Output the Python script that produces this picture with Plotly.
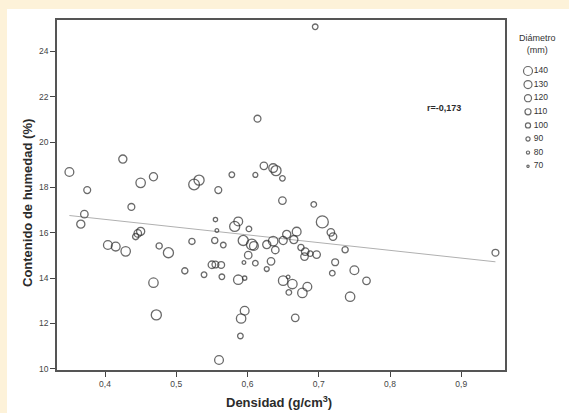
import plotly.graph_objects as go

# ---- data ----
densidad = [0.350, 0.375, 0.371, 0.366, 0.404, 0.415, 0.429, 0.425, 0.437, 0.450,
            0.468, 0.443, 0.446, 0.450, 0.476, 0.489, 0.468, 0.472, 0.512, 0.522,
            0.525, 0.532, 0.539, 0.550, 0.555, 0.559, 0.560, 0.555, 0.557, 0.554,
            0.563, 0.564, 0.566, 0.578, 0.582, 0.587, 0.587, 0.596, 0.590, 0.591,
            0.596, 0.595, 0.594, 0.602, 0.601, 0.606, 0.609, 0.611, 0.614, 0.611,
            0.623, 0.627, 0.627, 0.633, 0.636, 0.639, 0.636, 0.640, 0.649, 0.649,
            0.650, 0.650, 0.655, 0.658, 0.657, 0.663, 0.665, 0.669, 0.667, 0.675,
            0.677, 0.681, 0.680, 0.684, 0.688, 0.693, 0.697, 0.695, 0.705, 0.717,
            0.720, 0.719, 0.723, 0.737, 0.744, 0.750, 0.767, 0.948]
humedad = [18.68, 17.88, 16.82, 16.38, 15.46, 15.39, 15.18, 19.25, 17.14, 18.20,
           18.47, 15.83, 15.97, 16.06, 15.42, 15.12, 13.80, 12.38, 14.32, 15.62,
           18.13, 18.32, 14.15, 14.59, 14.60, 17.88, 10.39, 16.58, 16.10, 15.66,
           14.58, 14.06, 15.46, 18.56, 16.28, 16.50, 13.93, 14.00, 11.45, 12.22,
           12.56, 14.69, 15.66, 16.17, 15.01, 15.48, 15.42, 14.66, 21.03, 18.55,
           18.95, 15.48, 14.40, 14.74, 15.63, 15.24, 18.85, 18.74, 18.40, 17.42,
           15.66, 13.89, 15.93, 13.37, 14.05, 13.74, 15.70, 16.05, 12.25, 15.35,
           13.35, 15.17, 14.95, 13.62, 15.08, 17.25, 15.04, 25.08, 16.48, 16.02,
           15.83, 14.22, 14.70, 15.25, 13.18, 14.35, 13.88, 15.12]
diametro = [115, 100, 105, 110, 115, 115, 120, 110, 100, 120,
            110, 95, 105, 110, 95, 125, 120, 125, 95, 95,
            130, 125, 90, 105, 100, 100, 115, 80, 75, 95,
            100, 90, 90, 90, 125, 115, 120, 80, 90, 120,
            115, 75, 125, 90, 105, 130, 115, 90, 100, 85,
            105, 110, 85, 105, 120, 105, 115, 125, 90, 105,
            110, 120, 110, 90, 75, 120, 110, 115, 105, 95,
            120, 105, 105, 115, 90, 90, 105, 90, 140, 105,
            105, 90, 100, 95, 120, 115, 105, 100]

fit_x = [0.350, 0.948]
fit_y = [16.76, 14.72]

legend_diam = [140, 130, 120, 110, 100, 90, 80, 70]
x_ticks = [0.4, 0.5, 0.6, 0.7, 0.8, 0.9]
y_ticks = [10, 12, 14, 16, 18, 20, 22, 24]
r_text = "r=-0,173"


def px_size(d):
    return 3 + (d - 70) * 9 / 70


FONT = "Liberation Sans, Arial, sans-serif"
INK = "#2b2b2b"

fig = go.Figure()

fig.add_trace(go.Scatter(
    x=fit_x, y=fit_y, mode="lines",
    line=dict(color="#b0b0b0", width=1),
    hoverinfo="skip", showlegend=False))

fig.add_trace(go.Scatter(
    x=densidad, y=humedad, mode="markers",
    marker=dict(symbol="circle-open", color=INK,
                size=[px_size(d) for d in diametro],
                line=dict(width=1.3, color=INK)),
    showlegend=False))

# size legend drawn on its own hidden axes
leg_y = list(range(len(legend_diam)))
fig.add_trace(go.Scatter(
    x=[0] * len(legend_diam), y=leg_y,
    xaxis="x2", yaxis="y2", mode="markers",
    marker=dict(symbol="circle-open", color=INK,
                size=[px_size(d) * 0.75 for d in legend_diam],
                line=dict(width=1.2, color=INK)),
    showlegend=False, hoverinfo="skip"))
fig.add_trace(go.Scatter(
    x=[0.16] * len(legend_diam), y=leg_y,
    xaxis="x2", yaxis="y2", mode="text",
    text=[str(d) for d in legend_diam], textposition="middle right",
    textfont=dict(family=FONT, size=8.5, color="#333333"),
    showlegend=False, hoverinfo="skip"))

W, H = 569, 413
L, R, T, B = 57, 5, 20, 43
plot_w = W - L - R
plot_h = H - T - B
main_right = 505


def pxx(p):
    return (p - L) / plot_w


def pxy(p):
    return (H - B - p) / plot_h


fig.update_layout(
    width=W, height=H,
    margin=dict(l=L, r=R, t=T, b=B),
    paper_bgcolor="#fdf2d9",
    plot_bgcolor="#e9e9e9",
    separators=",.",
    showlegend=False,
    font=dict(family=FONT, color=INK),
    xaxis=dict(domain=[0, pxx(main_right)],
               range=[0.3326, 0.9614], tickvals=x_ticks, tickformat=".1f",
               ticks="outside", ticklen=5, tickcolor="#444", tickwidth=1,
               showgrid=False, zeroline=False,
               showline=True, mirror=True, linecolor="#555555", linewidth=1.5,
               tickfont=dict(size=8.5, color="#444444", family=FONT)),
    yaxis=dict(range=[9.95, 25.38], tickvals=y_ticks,
               ticks="outside", ticklen=5, tickcolor="#444", tickwidth=1,
               showgrid=False, zeroline=False,
               showline=True, mirror=True, linecolor="#555555", linewidth=1.5,
               tickfont=dict(size=8.5, color="#444444", family=FONT)),
    xaxis2=dict(domain=[pxx(515), 1], range=[-0.361, 1],
                visible=False, fixedrange=True),
    yaxis2=dict(domain=[0, 1], anchor="x2",
                range=[(370 - 71) / 13.6, (20 - 71) / 13.6],
                visible=False, fixedrange=True),
    shapes=[dict(type="rect", xref="paper", yref="paper", layer="below",
                 x0=pxx(7), x1=pxx(W) + 0.01,
                 y0=pxy(H) - 0.01, y1=pxy(9),
                 fillcolor="#ffffff", line=dict(width=0))],
    annotations=[
        dict(text=f"<b>{r_text}</b>", x=0.876, y=21.5, xref="x", yref="y",
             xanchor="center", yanchor="middle",
             showarrow=False, font=dict(size=9, color=INK, family=FONT)),
        dict(text="<b>Densidad (g/cm<sup>3</sup>)</b>", xref="paper", yref="paper",
             x=pxx(279), y=pxy(402), xanchor="center", yanchor="middle",
             showarrow=False, font=dict(size=13, color=INK, family=FONT)),
        dict(text="<b>Contenido de humedad (%)</b>", xref="paper", yref="paper",
             x=pxx(27), y=pxy(203), textangle=-90,
             xanchor="center", yanchor="middle",
             showarrow=False, font=dict(size=13, color=INK, family=FONT)),
        dict(text="Diámetro<br>(mm)", xref="paper", yref="paper",
             x=pxx(537), y=pxy(44), xanchor="center", yanchor="middle",
             showarrow=False, font=dict(size=9, color="#333333", family=FONT)),
    ],
)

fig.write_html("out.html")
